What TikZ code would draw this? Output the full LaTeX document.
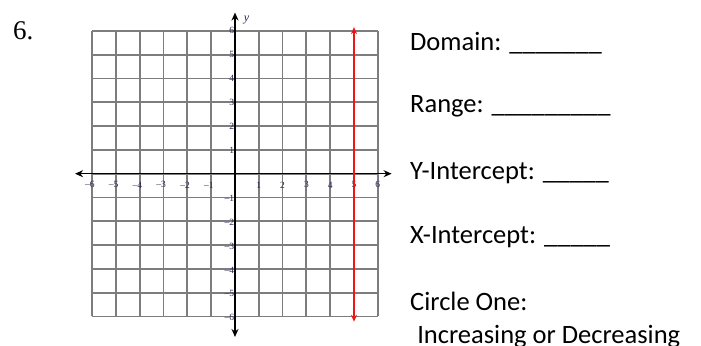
\documentclass[tikz,border=0pt]{standalone}
\usepackage{fontspec}
\setmainfont{Carlito}
\newfontfamily\timesfont{Liberation Serif}
\definecolor{GridColor}{RGB}{125,125,125}
\definecolor{LabelColor}{RGB}{40,40,85}
\definecolor{LineColor}{RGB}{240,20,20}
\usetikzlibrary{positioning, arrows.meta}
\tikzstyle{axis} = [line width=1.4pt, black, {Stealth[length=8pt,width=7pt]}-{Stealth[length=8pt,width=7pt]}]
\tikzstyle{graphline} = [line width=1.4pt, LineColor, {Stealth[length=7pt,width=6pt]}-{Stealth[length=7pt,width=6pt]}]
\tikzstyle{answer} = [anchor=base west, inner sep=0pt, font=\fontsize{26.5}{30}\selectfont]
\tikzstyle{tick} = [inner sep=0pt, text=LabelColor, font=\timesfont\fontsize{9.5}{10}\selectfont]

\begin{document}
\begin{tikzpicture}[x=23.8pt, y=23.8pt]
                \useasboundingbox (-9.874,-7.239) rectangle (19.580,7.298);

                % Problem number
                \node[anchor=base west, inner sep=0pt, font=\timesfont\fontsize{27}{30}\selectfont] (num) at (-9.33,5.647) {6.};

                % Grid
                \draw[line width=1.8pt, GridColor, step=1] (-6,-6) grid (6,6);

                % Axes
                \coordinate (xleft) at (-6.72,0);
                \coordinate (xright) at (6.58,0);
                \coordinate (ybottom) at (0,-6.86);
                \coordinate (ytop) at (0,6.77);
                \draw[axis] (xleft) -- (xright);
                \draw[axis] (ybottom) -- (ytop);
                \node[tick, font=\timesfont\itshape\fontsize{12}{13}\selectfont] (ylabel) at (0.49,6.46) {y};

                % Tick labels
                \foreach \x in {1,...,6} {
                    \node[tick] (xpos\x) at (\x,-0.47) {\x};
                    \node[tick] (xneg\x) at (-\x-0.1,-0.47) {–\x};
                    \node[tick, anchor=east] (ypos\x) at (-0.03,\x) {\x};
                    \node[tick, anchor=east] (yneg\x) at (-0.03,-\x-0.05) {–\x};
                }

                % Vertical line x = 5
                \coordinate (lbottom) at (5,-6.22);
                \coordinate (ltop) at (5,6.16);
                \draw[graphline] (lbottom) -- (ltop);

                % Questions
                \node[answer] (domain) at (7.353,5.168) {Domain: \_\_\_\_\_\_\_};
                \node[answer] (range) at (7.353,2.563) {Range: \_\_\_\_\_\_\_\_\_};
                \node[answer] (yint) at (7.353,-0.235) {Y-Intercept: \_\_\_\_\_};
                \node[answer] (xint) at (7.353,-2.954) {X-Intercept: \_\_\_\_\_};
                \node[answer] (circle) at (7.353,-5.769) {Circle One:};
                \node[answer] (incdec) at (7.65,-7.13) {Increasing or Decreasing};
            \end{tikzpicture}
\end{document}
